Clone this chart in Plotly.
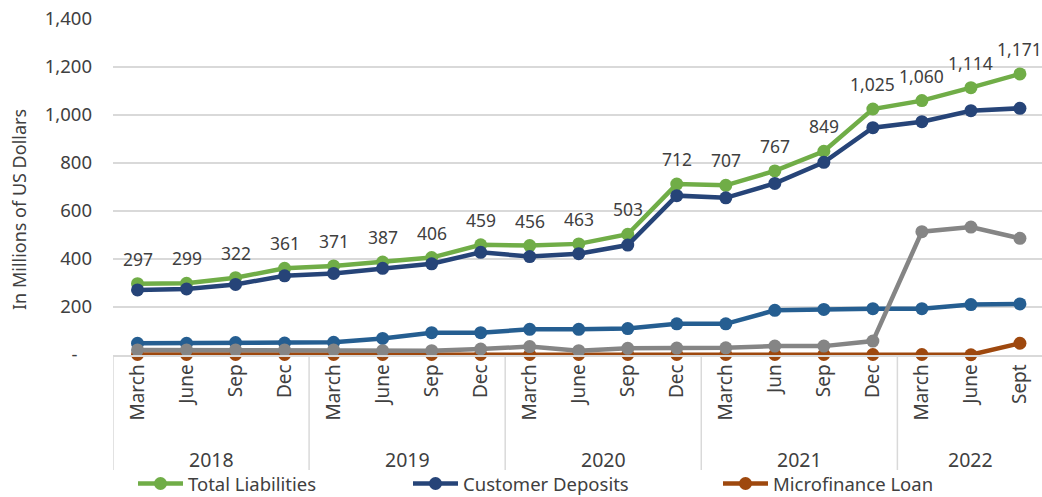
import plotly.graph_objects as go

# Quarter labels and their years
months = ["March", "June", "Sep", "Dec",
          "March", "June", "Sep", "Dec",
          "March", "June", "Sep", "Dec",
          "March", "Jun", "Sep", "Dec",
          "March", "June", "Sept"]
years = ["2018", "2019", "2020", "2021", "2022"]
year_sizes = [4, 4, 4, 4, 3]

# Series values, millions of US dollars
total_liabilities = [297, 299, 322, 361, 371, 387, 406, 459, 456, 463, 503,
                     712, 707, 767, 849, 1025, 1060, 1114, 1171]
customer_deposits = [271, 275, 294, 330, 340, 361, 380, 428, 410, 422, 458,
                     664, 655, 715, 803, 947, 972, 1018, 1028]
microfinance_loan = [2, 2, 2, 2, 2, 2, 2, 2, 2, 2, 2,
                     2, 2, 2, 2, 2, 2, 1, 49]
other_funding = [49, 49, 52, 50, 53, 69, 93, 93, 107, 107, 110,
                 130, 130, 186, 190, 193, 193, 210, 213]
other_liabilities = [21, 21, 21, 21, 21, 18, 18, 25, 35, 18, 28,
                     29, 30, 37, 37, 58, 514, 533, 486]

y_ticks = [0, 200, 400, 600, 800, 1000, 1200, 1400]
y_tick_text = ["-\u00a0\u00a0\u00a0", "200", "400", "600", "800",
               "1,000", "1,200", "1,400"]

FONT = "Noto Sans"
TXT = "#404040"
W, H = 1042, 497
PLOT_L, PLOT_R, PLOT_T, PLOT_B = 113, 1042, 19, 355

x = list(range(len(months)))

fig = go.Figure()

series = [
    ("Total Liabilities", total_liabilities, "#70AD47", "legend", True),
    ("Customer Deposits", customer_deposits, "#264478", "legend2", True),
    ("Microfinance Loan", microfinance_loan, "#9E480E", "legend3", True),
    ("Other Funding", other_funding, "#255E91", "legend", False),
    ("Other Liabilities", other_liabilities, "#858585", "legend", False),
]
for name, vals, color, leg, show in series:
    fig.add_trace(go.Scatter(
        x=x, y=vals, name=name, mode="lines+markers",
        line=dict(color=color, width=4.5),
        marker=dict(color=color, size=13),
        legend=leg, showlegend=show, cliponaxis=False,
    ))

# Value labels above the total liabilities line
for xi, v in zip(x, total_liabilities):
    fig.add_annotation(
        x=xi, y=v, text=f"{v:,}", showarrow=False,
        yanchor="bottom", yshift=11,
        font=dict(family=FONT, size=17.5, color=TXT),
    )

# Year group labels and dividers below the axis
plot_h = PLOT_B - PLOT_T
plot_w = PLOT_R - PLOT_L
div_bottom = -(470 - PLOT_B) / plot_h
year_y = -(459 - PLOT_B) / plot_h
start = 0
for yr, n in zip(years, year_sizes):
    fig.add_shape(type="line", xref="x", yref="paper",
                  x0=start - 0.5, x1=start - 0.5, y0=0, y1=div_bottom,
                  line=dict(color="#d9d9d9", width=1.5))
    fig.add_annotation(x=start + (n - 1) / 2, y=year_y, xref="x", yref="paper",
                       text=yr, showarrow=False, yanchor="middle",
                       font=dict(family=FONT, size=19.5, color=TXT))
    start += n
fig.add_shape(type="line", xref="x", yref="paper",
              x0=start - 0.5, x1=start - 0.5, y0=0, y1=div_bottom,
              line=dict(color="#d9d9d9", width=1.5))

# Y axis title
fig.add_annotation(
    text="In Millions of US Dollars", xref="paper", yref="paper",
    x=-(PLOT_L - 19) / plot_w, y=(PLOT_B - 210) / plot_h,
    textangle=-90, showarrow=False, xanchor="center", yanchor="middle",
    font=dict(family=FONT, size=18, color=TXT),
)

leg_common = dict(orientation="h", xref="container", yref="container",
                  yanchor="middle", xanchor="left", bgcolor="rgba(0,0,0,0)",
                  itemwidth=45,
                  font=dict(family=FONT, size=18.5, color=TXT))
legend_y = 1 - 484 / H

fig.update_layout(
    width=W, height=H,
    margin=dict(l=PLOT_L, r=W - PLOT_R, t=PLOT_T, b=H - PLOT_B),
    paper_bgcolor="white", plot_bgcolor="white",
    font=dict(family=FONT, color=TXT),
    legend=dict(x=133 / W, y=legend_y, **leg_common),
    legend2=dict(x=408 / W, y=legend_y, **leg_common),
    legend3=dict(x=718 / W, y=legend_y, **leg_common),
    xaxis=dict(
        range=[-0.5, 18.45], tickvals=x, ticktext=months, tickangle=-90,
        showgrid=False, zeroline=False, showline=True,
        linecolor="#d9d9d9", linewidth=1.5, ticks="",
        tickfont=dict(family=FONT, size=19, color=TXT),
    ),
    yaxis=dict(
        range=[0, 1400], tickvals=y_ticks, ticktext=y_tick_text,
        showgrid=True, gridcolor="#d9d9d9", gridwidth=1.5,
        zeroline=False, showline=False, ticks="", ticklabelstandoff=20,
        tickfont=dict(family=FONT, size=18.5, color=TXT),
    ),
)

fig.write_html("out.html")
